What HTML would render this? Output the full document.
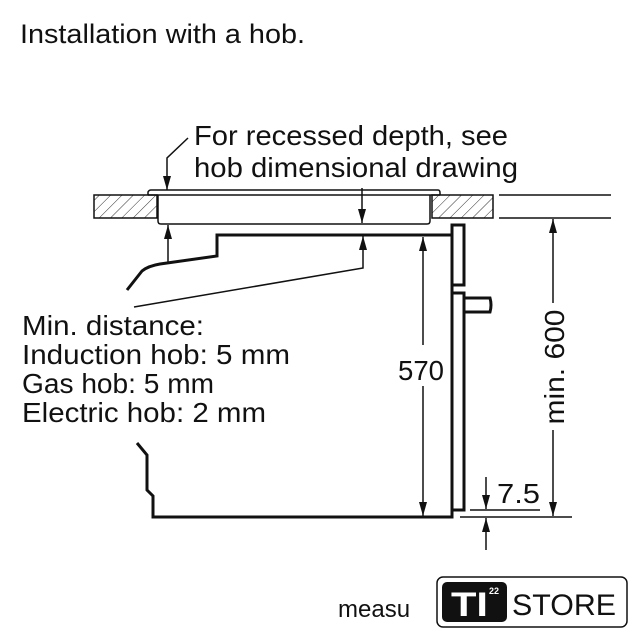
<!DOCTYPE html>
<html><head><style>
body{margin:0;background:#fff;width:638px;height:640px;overflow:hidden}
svg{display:block}
text{font-family:"Liberation Sans",sans-serif;fill:#111}
</style></head><body>
<svg width="638" height="640" viewBox="0 0 638 640">
<defs>
<pattern id="h" patternUnits="userSpaceOnUse" width="8" height="8" patternTransform="rotate(45)">
<line x1="0" y1="0" x2="0" y2="8" stroke="#333" stroke-width="1"/></pattern>
<marker id="a" markerWidth="14" markerHeight="8" refX="14" refY="4" orient="auto-start-reverse" markerUnits="userSpaceOnUse" viewBox="0 0 14 8"><path d="M0,0 L14,4 L0,8Z" fill="#111"/></marker>
</defs>
<text x="20" y="43" font-size="27" textLength="285" lengthAdjust="spacingAndGlyphs">Installation with a hob.</text>
<text x="194" y="145" font-size="28" textLength="314" lengthAdjust="spacingAndGlyphs">For recessed depth, see</text>
<text x="194" y="177" font-size="28" textLength="324" lengthAdjust="spacingAndGlyphs">hob dimensional drawing</text>
<g font-size="28"><text x="22" y="335" textLength="182" lengthAdjust="spacingAndGlyphs">Min. distance:</text><text x="22" y="364" textLength="268" lengthAdjust="spacingAndGlyphs">Induction hob: 5 mm</text><text x="22" y="393" textLength="192" lengthAdjust="spacingAndGlyphs">Gas hob: 5 mm</text><text x="22" y="422" textLength="244" lengthAdjust="spacingAndGlyphs">Electric hob: 2 mm</text></g>
<text x="398" y="380" font-size="28" textLength="46" lengthAdjust="spacingAndGlyphs">570</text>
<text transform="translate(564,367) rotate(-90)" font-size="28" text-anchor="middle" textLength="115" lengthAdjust="spacingAndGlyphs">min. 600</text>
<text x="497" y="503" font-size="28" textLength="43" lengthAdjust="spacingAndGlyphs">7.5</text>
<g fill="none" stroke="#111">
<rect x="94" y="195" width="63" height="23" fill="url(#h)" stroke-width="1.5"/>
<rect x="432" y="195" width="61" height="23" fill="url(#h)" stroke-width="1.5"/>
<line x1="499" y1="195" x2="611" y2="195" stroke-width="1.5"/>
<line x1="499" y1="218" x2="611" y2="218" stroke-width="1.5"/>
<path d="M148,195 L148,192 Q149,190 151,190 L438,190 Q440,190 440,193 L440,195" stroke-width="1.5"/>
<line x1="148" y1="195" x2="440" y2="195" stroke-width="1.5"/>
<path d="M158,195 L158,221 Q158,224 161,224 L427,224 Q430,224 430,221 L430,195" stroke-width="1.5"/>
<path d="M127,290 L142,271 Q148,266 160,264 L217,256 L217,235 L452,235" stroke-width="3"/>
<path d="M137,443 L147,455 L147,490 L153,496 L153,517 L452,517 L452,510 L464,510 L464,293 L452,293 L452,285 L464,285 L464,225 L452,225 L452,517" stroke-width="3"/>
<path d="M464,298 L490,298 Q492,305 490,312 L464,312" stroke-width="3"/>
<path d="M188,138 L167,158 L167,190" stroke-width="1.5" marker-end="url(#a)"/>
<line x1="168" y1="262" x2="168" y2="225" stroke-width="1.5" marker-end="url(#a)"/>
<line x1="362" y1="188" x2="362" y2="223" stroke-width="1.5" marker-end="url(#a)"/>
<path d="M134,307 L363,268 L363,236" stroke-width="1.5" marker-end="url(#a)"/>
<line x1="423" y1="345" x2="423" y2="237" stroke-width="1.5" marker-end="url(#a)"/>
<line x1="423" y1="386" x2="423" y2="516" stroke-width="1.5" marker-end="url(#a)"/>
<line x1="553" y1="303" x2="553" y2="219" stroke-width="1.5" marker-end="url(#a)"/>
<line x1="553" y1="430" x2="553" y2="516" stroke-width="1.5" marker-end="url(#a)"/>
<line x1="460" y1="517" x2="572" y2="517" stroke-width="1.5"/>
<line x1="470" y1="510" x2="540" y2="510" stroke-width="1.5"/>
<line x1="486" y1="477" x2="486" y2="509" stroke-width="1.5" marker-end="url(#a)"/>
<line x1="486" y1="550" x2="486" y2="518" stroke-width="1.5" marker-end="url(#a)"/>
<rect x="437" y="577" width="190" height="50" rx="6" stroke-width="1.5"/>
</g>
<rect x="442" y="582" width="65" height="40" rx="5" fill="#111"/>
<text x="451" y="616" font-size="34" font-weight="bold" style="fill:#fff" textLength="37" lengthAdjust="spacingAndGlyphs">TI</text>
<text x="489" y="594" font-size="9" font-weight="bold" style="fill:#fff">22</text>
<text x="512" y="615" font-size="30" textLength="104" lengthAdjust="spacingAndGlyphs">STORE</text>
<text x="338" y="617" font-size="24">measu</text>
</svg>
</body></html>
